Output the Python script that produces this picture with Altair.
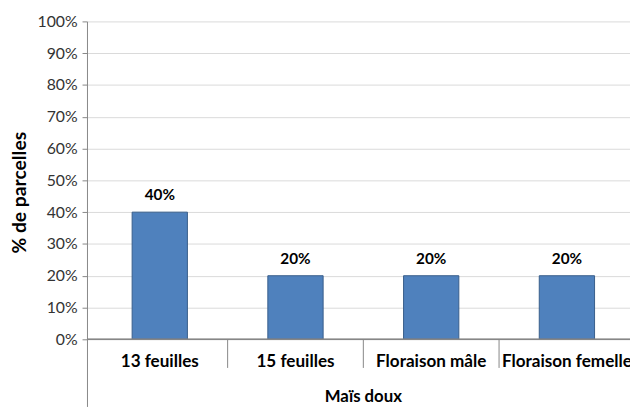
import altair as alt
import pandas as pd

categories = ["13 feuilles", "15 feuilles", "Floraison mâle", "Floraison femelle"]
values = [0.40, 0.20, 0.20, 0.20]
group_label = "Maïs doux"
y_title = "% de parcelles"
y_ticks = [0, 0.1, 0.2, 0.3, 0.4, 0.5, 0.6, 0.7, 0.8, 0.9, 1.0]

df = pd.DataFrame({
    "cat": categories,
    "val": values,
    "pos": [i + 0.5 for i in range(len(categories))],
})
div = pd.DataFrame({"b": list(range(1, len(categories)))})
grp = pd.DataFrame({"g": [group_label], "pos": [len(categories) / 2]})

FONT = "Lato"
W, H = 550, 390
xs = alt.Scale(domain=[0, W / 140.0], nice=False, zero=False)
ys = alt.Scale(domain=[-0.2112, 1.0], nice=False, zero=False)

yaxis = alt.Axis(values=y_ticks, format=".0%", grid=True, gridColor="#D9D9D9", labelOverlap=False,
                 domainColor="#868686", tickColor="#868686", tickSize=5,
                 labelFont=FONT, labelFontSize=16, labelColor="#333333", labelPadding=5,
                 titleFont=FONT, titleFontSize=19.5, titleFontWeight="bold", titleColor="#000000",
                 titleX=-68, titleY=173, titleAngle=270, titleAlign="center",
                 titleBaseline="middle")

bars = alt.Chart(df).mark_bar(size=56, color="#4F81BD", stroke="#385D8A", strokeWidth=1, clip=True).encode(
    x=alt.X("pos:Q", scale=xs, axis=None),
    y=alt.Y("val:Q", scale=ys, title=y_title, axis=yaxis),
    y2=alt.datum(0),
)

zero_line = alt.Chart(df).mark_rule(color="#868686", strokeWidth=1).encode(
    y=alt.YDatum(0, scale=ys, title=y_title, axis=yaxis)
)

dividers = alt.Chart(div).mark_rule(color="#868686", strokeWidth=1).encode(
    x=alt.X("b:Q", scale=xs, axis=None),
    y=alt.YDatum(0, scale=ys, title=y_title, axis=yaxis),
    y2=alt.datum(-0.09),
)

val_labels = alt.Chart(df).mark_text(font=FONT, fontSize=15.5, fontWeight="bold", color="#000000",
                                     dy=-17, baseline="middle", clip=True).encode(
    x=alt.X("pos:Q", scale=xs, axis=None),
    y=alt.Y("val:Q", scale=ys, title=y_title, axis=yaxis),
    text=alt.Text("val:Q", format=".0%"),
)

cat_labels = alt.Chart(df).mark_text(font=FONT, fontSize=17.3, fontWeight="bold", color="#000000",
                                     baseline="middle", clip=True).encode(
    x=alt.X("pos:Q", scale=xs, axis=None),
    y=alt.YDatum(-0.07, scale=ys, title=y_title, axis=yaxis),
    text="cat:N",
)

grp_label = alt.Chart(grp).mark_text(font=FONT, fontSize=17, fontWeight="bold", color="#000000",
                                     baseline="middle", clip=True).encode(
    x=alt.X("pos:Q", scale=xs, axis=None),
    y=alt.YDatum(-0.183, scale=ys, title=y_title, axis=yaxis),
    text="g:N",
)

chart = alt.layer(bars, zero_line, dividers, val_labels, cat_labels, grp_label).properties(
    width=W, height=H,
    autosize=alt.AutoSizeParams(type="none"),
    padding={"left": 80, "top": 11, "right": 0, "bottom": 0},
).configure_view(stroke=None)

chart.save("out.html", embed_options={"renderer": "svg", "actions": False})
